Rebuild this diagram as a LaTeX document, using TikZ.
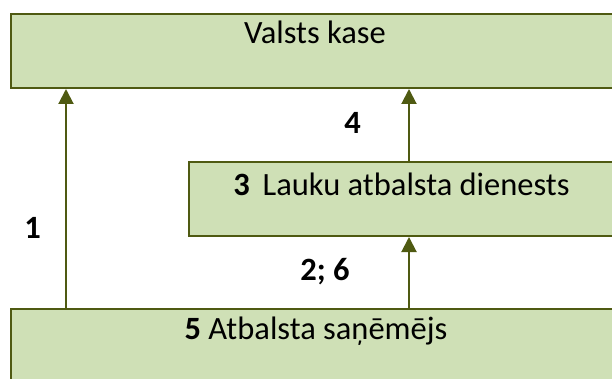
\documentclass[tikz,border=0pt]{standalone}
\usepackage{fontspec}
\setmainfont{Carlito}
\usetikzlibrary{arrows.meta}
\definecolor{boxfill}{HTML}{CFE0B6}
\definecolor{boxline}{HTML}{4F5A12}
\tikzset{
  box/.style={draw=boxline, fill=boxfill, line width=2pt, rectangle, inner sep=0pt},
  txt/.style={anchor=base, inner sep=0pt, font=\fontsize{32.5}{38}\selectfont},
  arr/.style={draw=boxline, line width=2pt, -{Triangle[length=15pt,width=15pt]}}
}
\begin{document}
\begin{tikzpicture}[x=1pt,y=1pt]
\useasboundingbox (0,0) rectangle (612,378);
\clip (0,0) rectangle (612,378);
\node[box, minimum width=640pt, minimum height=74pt] (vk) at (331,327) {};
\node[box, minimum width=460pt, minimum height=74pt] (lad) at (419,179) {};
\node[box, minimum width=640pt, minimum height=110pt] (as) at (331,14) {};
\node[txt] (t1) at (315,334) {Valsts kase};
\node[txt] (t2) at (401.5,183) {\textbf{3}\, Lauku atbalsta dienests};
\node[txt] (t3) at (316,39) {\textbf{5} Atbalsta saņēmējs};
\node[txt] (l4) at (352.7,244.7) {\textbf{4}};
\node[txt] (l1) at (32.5,139.7) {\textbf{1}};
\node[txt] (l26) at (325,98) {\textbf{2; 6}};
\coordinate (xa) at (66,0);
\coordinate (xb) at (409,0);
\draw[arr] (xa |- as.north) -- (xa |- vk.south);
\draw[arr] (xb |- as.north) -- (xb |- lad.south);
\draw[arr] (xb |- lad.north) -- (xb |- vk.south);
\end{tikzpicture}
\end{document}
